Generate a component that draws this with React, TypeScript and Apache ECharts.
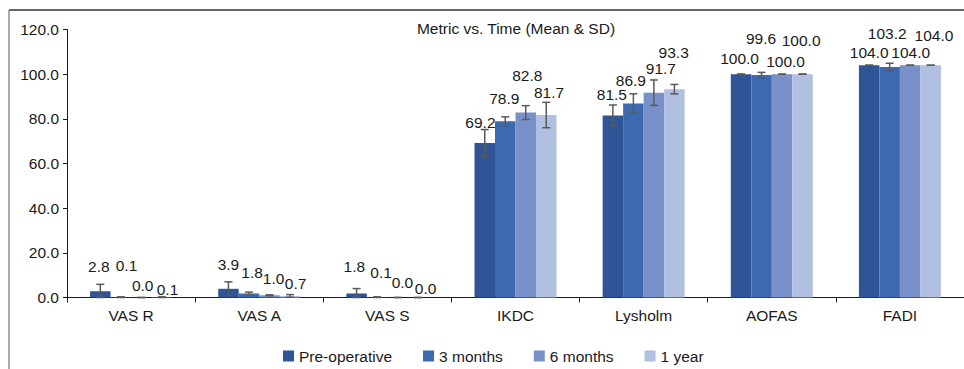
import React, { useEffect, useRef } from "react";
import * as echarts from "echarts";

const categories = ["VAS R", "VAS A", "VAS S", "IKDC", "Lysholm", "AOFAS", "FADI"];
const seriesNames = ["Pre-operative", "3 months", "6 months", "1 year"];

const preOperative = [2.8, 3.9, 1.8, 69.2, 81.5, 100.0, 104.0];
const threeMonths = [0.1, 1.8, 0.1, 78.9, 86.9, 99.6, 103.2];
const sixMonths = [0.0, 1.0, 0.0, 82.8, 91.7, 100.0, 104.0];
const oneYear = [0.1, 0.7, 0.0, 81.7, 93.3, 100.0, 104.0];

const sdPreOperative = [3.1, 3.1, 2.2, 6.0, 4.7, 0.0, 0.0];
const sdThreeMonths = [0.2, 0.6, 0.2, 2.0, 4.3, 1.2, 1.7];
const sdSixMonths = [0.0, 0.2, 0.0, 3.1, 5.7, 0.0, 0.0];
const sdOneYear = [0.2, 0.6, 0.0, 5.7, 2.1, 0.0, 0.0];

const yTicks = [0, 20, 40, 60, 80, 100, 120];

// label nudges (style, not data)
const labelNudge = [
  [[-1.5, -12], [0, -11.3], [-2.3, -14.3], [-4.3, -7.7], [-1, -7.7], [-1.5, -2.5], [0, 0.4]],
  [[5.7, -18.8], [3.1, -8.3], [4, -11.5], [-1, -10.1], [-2.5, -10], [-0.5, -23.4], [-2.5, -21]],
  [[1.4, 1], [4.1, -3.5], [4.8, -2.3], [1.5, -24.1], [7, -11], [3.5, 0.2], [0.5, 0.4]],
  [[5.7, 5.2], [5.6, 0.6], [7.5, 4.3], [2.8, -9.9], [-0.7, -24], [-1.4, -20.8], [3.3, -16.3]],
];

const colors = ["#2F5597", "#3D69B1", "#7891C9", "#B1BFE0"];
const FONT = "'Liberation Sans', Arial, sans-serif";
const FS = 15.5;

export default function App() {
  const ref = useRef<HTMLDivElement>(null);
  useEffect(() => {
    if (!ref.current) return;
    const chart = echarts.init(ref.current, undefined, { renderer: "svg" });
    const means = [preOperative, threeMonths, sixMonths, oneYear];
    const sds = [sdPreOperative, sdThreeMonths, sdSixMonths, sdOneYear];

    const barSeries = means.map((vals, s) => ({
      name: seriesNames[s],
      type: "bar",
      barGap: "0%",
      barCategoryGap: "36%",
      itemStyle: { color: colors[s] },
      data: vals.map((v, i) => ({
        value: v,
        label: { offset: labelNudge[s][i] },
      })),
      label: {
        show: true,
        position: "top",
        distance: 5,
        fontFamily: FONT,
        fontSize: FS,
        color: "#1a1a1a",
        formatter: (p: any) => Number(p.value).toFixed(1),
      },
      z: 2,
    }));

    const errData: number[][] = [];
    means.forEach((vals, s) => {
      vals.forEach((v, i) => {
        errData.push([i, s, v - sds[s][i], v + sds[s][i]]);
      });
    });

    const errSeries = {
      type: "custom",
      silent: true,
      z: 5,
      encode: { x: 0, y: 3 },
      data: errData,
      renderItem: (params: any, api: any) => {
        const c = api.value(0);
        const s = api.value(1);
        const lo = Math.max(0, api.value(2));
        const hi = api.value(3);
        const band = api.size([1, 0])[0];
        const bw = (band * 0.64) / 4;
        const x = api.coord([c, 0])[0] + (s - 1.5) * bw;
        const yHi = api.coord([c, hi])[1];
        const yLo = api.coord([c, lo])[1];
        const cap = 4;
        const st = { stroke: "#5a5a5a", lineWidth: 1.5 };
        return {
          type: "group",
          children: [
            { type: "line", shape: { x1: x, y1: yHi, x2: x, y2: yLo }, style: st },
            { type: "line", shape: { x1: x - cap, y1: yHi, x2: x + cap, y2: yHi }, style: st },
            { type: "line", shape: { x1: x - cap, y1: yLo, x2: x + cap, y2: yLo }, style: st },
          ],
        };
      },
    };

    chart.setOption({
      animation: false,
      backgroundColor: "#ffffff",
      title: {
        text: "Metric vs. Time (Mean & SD)",
        left: 511,
        top: 15,
        textAlign: "center",
        textStyle: { fontFamily: FONT, fontSize: FS, fontWeight: "normal", color: "#1a1a1a" },
      },
      legend: {
        data: seriesNames,
        left: 278,
        top: 343,
        itemWidth: 11,
        itemHeight: 11,
        itemGap: 31,
        icon: "rect",
        textStyle: { fontFamily: FONT, fontSize: FS, color: "#1a1a1a" },
      },
      grid: {
        left: 67,
        top: 29.5,
        width: 899.5,
        height: 268,
        containLabel: false,
      },
      xAxis: {
        type: "category",
        data: categories,
        axisLine: { lineStyle: { color: "#1a1a1a", width: 1 } },
        axisTick: { show: true, length: 5, lineStyle: { color: "#1a1a1a" } },
        axisLabel: { fontFamily: FONT, fontSize: FS, color: "#1a1a1a", margin: 10 },
      },
      yAxis: {
        type: "value",
        min: yTicks[0],
        max: yTicks[yTicks.length - 1],
        interval: 20,
        splitLine: { show: false },
        axisLine: { show: true, lineStyle: { color: "#1a1a1a", width: 1 } },
        axisTick: { show: true, length: 4, lineStyle: { color: "#1a1a1a" } },
        axisLabel: {
          fontFamily: FONT,
          fontSize: FS,
          color: "#1a1a1a",
          margin: 8,
          formatter: (v: number) => v.toFixed(1),
        },
      },
      graphic: [
        { type: "line", shape: { x1: 9, y1: 10, x2: 964, y2: 10 }, style: { stroke: "#333", lineWidth: 1.5 } },
        { type: "line", shape: { x1: 9, y1: 10, x2: 9, y2: 369 }, style: { stroke: "#8c8c8c", lineWidth: 1.5 } },
      ],
      series: [...barSeries, errSeries],
    });
    return () => chart.dispose();
  }, []);
  return (
    <div
      ref={ref}
      style={{ position: "fixed", left: 0, top: 0, width: 964, height: 369, background: "#fff" }}
    />
  );
}
